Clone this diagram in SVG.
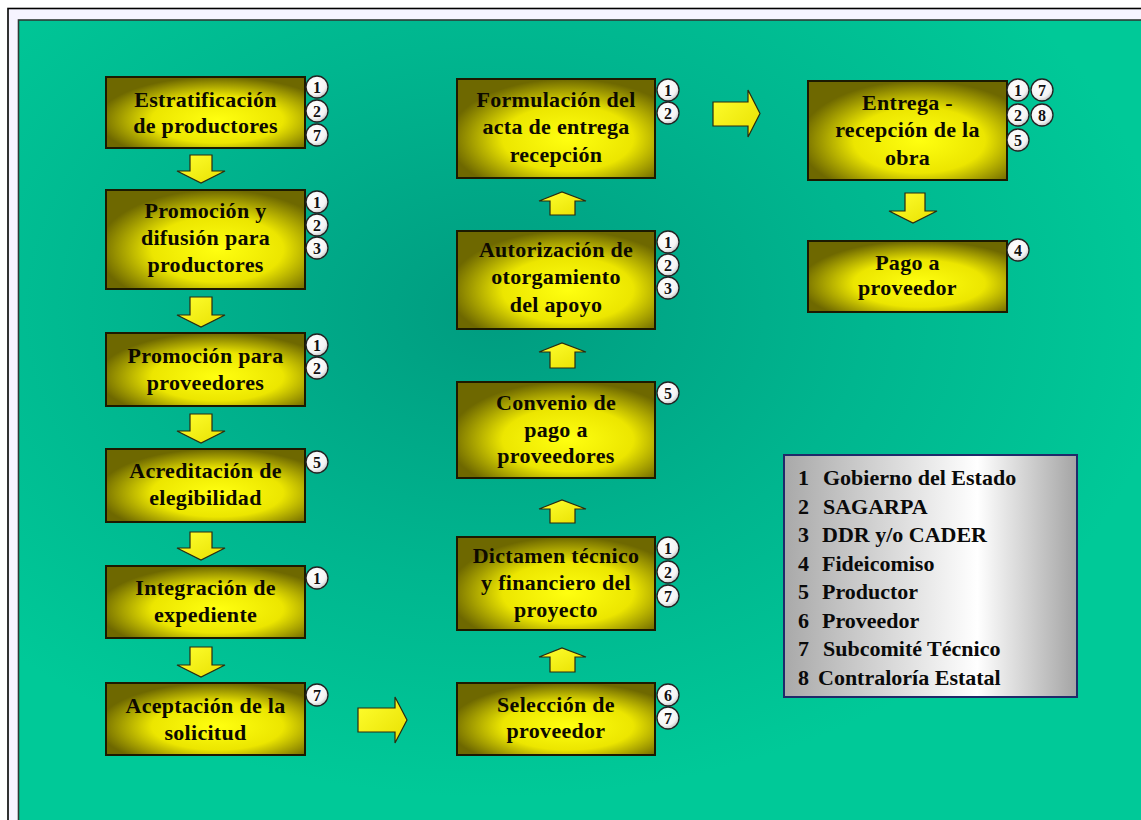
<svg xmlns="http://www.w3.org/2000/svg" width="1141" height="820" viewBox="0 0 1141 820">
<defs>
<radialGradient id="bg" cx="0.42" cy="0.36" r="0.6">
<stop offset="0" stop-color="#009c80"/>
<stop offset="0.55" stop-color="#00b68f"/>
<stop offset="1" stop-color="#00c998"/>
</radialGradient>
<radialGradient id="boxg" cx="0.56" cy="0.6" r="0.6">
<stop offset="0" stop-color="#ffff10"/>
<stop offset="0.55" stop-color="#ece600"/>
<stop offset="1" stop-color="#6e6800"/>
</radialGradient>
<linearGradient id="legg" x1="0" y1="0" x2="1" y2="0">
<stop offset="0" stop-color="#a9a9a9"/>
<stop offset="0.66" stop-color="#ffffff"/>
<stop offset="1" stop-color="#a4a4a4"/>
</linearGradient>
<radialGradient id="badg" cx="0.4" cy="0.35" r="0.7">
<stop offset="0" stop-color="#ffffff"/>
<stop offset="0.7" stop-color="#f4f4f4"/>
<stop offset="1" stop-color="#bdbdbd"/>
</radialGradient>
<linearGradient id="arrg" x1="0" y1="0" x2="1" y2="1">
<stop offset="0" stop-color="#ffff30"/>
<stop offset="1" stop-color="#e8e000"/>
</linearGradient>
</defs>
<style>
.box{fill:url(#boxg);stroke:#1c1a00;stroke-width:2}
.t{font-family:"Liberation Serif","Times New Roman",serif;font-weight:bold;font-size:22px;fill:#0d0a00;text-anchor:middle;letter-spacing:0.3px}
.bd circle{fill:url(#badg);stroke:#222;stroke-width:1.3}
.bd text{font-family:"Liberation Serif","Times New Roman",serif;font-weight:bold;font-size:16px;fill:#111;text-anchor:middle}
.arr{fill:url(#arrg);stroke:#2a2a10;stroke-width:1.2;stroke-linejoin:miter}
.lg{font-family:"Liberation Serif","Times New Roman",serif;font-weight:bold;font-size:22px;fill:#0a0a0a}
</style>
<rect x="0" y="0" width="1141" height="820" fill="#ffffff"/>
<rect x="8" y="8.5" width="1140" height="820" fill="#f6f4ff" stroke="#000" stroke-width="1.6"/>
<rect x="18.5" y="20" width="1130" height="810" fill="url(#bg)" stroke="#2e3a35" stroke-width="1.6"/>

<g id="connectors">
<polygon class="arr" points="190,155 212,155 212,171 225,171 201,183 177,171 190,171"/>
<polygon class="arr" points="190,297 212,297 212,315 225,315 201,327 177,315 190,315"/>
<polygon class="arr" points="190,414 212,414 212,431 225,431 201,443 177,431 190,431"/>
<polygon class="arr" points="190,532 212,532 212,548 225,548 201,560 177,548 190,548"/>
<polygon class="arr" points="190,647 212,647 212,665 225,665 201,677 177,665 190,665"/>
<polygon class="arr" points="358,708 395,708 395,697 407,720 395,743 395,732 358,732"/>
<polygon class="arr" points="550,215 550,201 539,201 562,192 586,201 575,201 575,215"/>
<polygon class="arr" points="550,368 550,352 539,352 562,343 586,352 575,352 575,368"/>
<polygon class="arr" points="550,523 550,509 539,509 562,500 586,509 575,509 575,523"/>
<polygon class="arr" points="550,672 550,657 539,657 562,648 586,657 575,657 575,672"/>
<polygon class="arr" points="713,102 748,102 748,90 760,113.5 748,137 748,126 713,126"/>
<polygon class="arr" points="905,193 925,193 925,211 937,211 913,223 889,211 905,211"/>
</g>

<g id="n-estratificacion">
<rect class="box" x="106" y="77" width="199" height="71"/>
<text class="t" x="205.5" y="107">Estratificación</text>
<text class="t" x="205.5" y="133">de productores</text>
<g class="bd"><circle cx="317" cy="87" r="11"/><text x="317" y="92.5">1</text></g>
<g class="bd"><circle cx="317" cy="111" r="11"/><text x="317" y="116.5">2</text></g>
<g class="bd"><circle cx="317" cy="135" r="11"/><text x="317" y="140.5">7</text></g>
</g>

<g id="n-promocion-difusion">
<rect class="box" x="106" y="190" width="199" height="99"/>
<text class="t" x="205.5" y="218">Promoción y</text>
<text class="t" x="205.5" y="245">difusión para</text>
<text class="t" x="205.5" y="272">productores</text>
<g class="bd"><circle cx="317" cy="202" r="11"/><text x="317" y="207.5">1</text></g>
<g class="bd"><circle cx="317" cy="225" r="11"/><text x="317" y="230.5">2</text></g>
<g class="bd"><circle cx="317" cy="248" r="11"/><text x="317" y="253.5">3</text></g>
</g>

<g id="n-promocion-proveedores">
<rect class="box" x="106" y="333" width="199" height="73"/>
<text class="t" x="205.5" y="363">Promoción para</text>
<text class="t" x="205.5" y="390">proveedores</text>
<g class="bd"><circle cx="317" cy="345" r="11"/><text x="317" y="350.5">1</text></g>
<g class="bd"><circle cx="317" cy="368" r="11"/><text x="317" y="373.5">2</text></g>
</g>

<g id="n-acreditacion">
<rect class="box" x="106" y="449" width="199" height="73"/>
<text class="t" x="205.5" y="478">Acreditación de</text>
<text class="t" x="205.5" y="505">elegibilidad</text>
<g class="bd"><circle cx="317" cy="462" r="11"/><text x="317" y="467.5">5</text></g>
</g>

<g id="n-integracion">
<rect class="box" x="106" y="566" width="199" height="72"/>
<text class="t" x="205.5" y="595">Integración de</text>
<text class="t" x="205.5" y="622">expediente</text>
<g class="bd"><circle cx="317" cy="578" r="11"/><text x="317" y="583.5">1</text></g>
</g>

<g id="n-aceptacion">
<rect class="box" x="106" y="683" width="199" height="72"/>
<text class="t" x="205.5" y="713">Aceptación de la</text>
<text class="t" x="205.5" y="740">solicitud</text>
<g class="bd"><circle cx="317" cy="695" r="11"/><text x="317" y="700.5">7</text></g>
</g>

<g id="n-seleccion">
<rect class="box" x="457" y="683" width="198" height="72"/>
<text class="t" x="556" y="712">Selección de</text>
<text class="t" x="556" y="738">proveedor</text>
<g class="bd"><circle cx="668" cy="695" r="11"/><text x="668" y="700.5">6</text></g>
<g class="bd"><circle cx="668" cy="718" r="11"/><text x="668" y="723.5">7</text></g>
</g>

<g id="n-dictamen">
<rect class="box" x="457" y="537" width="198" height="93"/>
<text class="t" x="556" y="563">Dictamen técnico</text>
<text class="t" x="556" y="590">y financiero del</text>
<text class="t" x="556" y="617">proyecto</text>
<g class="bd"><circle cx="668" cy="548" r="11"/><text x="668" y="553.5">1</text></g>
<g class="bd"><circle cx="668" cy="572" r="11"/><text x="668" y="577.5">2</text></g>
<g class="bd"><circle cx="668" cy="596" r="11"/><text x="668" y="601.5">7</text></g>
</g>

<g id="n-convenio">
<rect class="box" x="457" y="382" width="198" height="96"/>
<text class="t" x="556" y="410">Convenio de</text>
<text class="t" x="556" y="437">pago a</text>
<text class="t" x="556" y="463">proveedores</text>
<g class="bd"><circle cx="668" cy="393" r="11"/><text x="668" y="398.5">5</text></g>
</g>

<g id="n-autorizacion">
<rect class="box" x="457" y="231" width="198" height="98"/>
<text class="t" x="556" y="257">Autorización de</text>
<text class="t" x="556" y="284">otorgamiento</text>
<text class="t" x="556" y="312">del apoyo</text>
<g class="bd"><circle cx="668" cy="242" r="11"/><text x="668" y="247.5">1</text></g>
<g class="bd"><circle cx="668" cy="265" r="11"/><text x="668" y="270.5">2</text></g>
<g class="bd"><circle cx="668" cy="288" r="11"/><text x="668" y="293.5">3</text></g>
</g>

<g id="n-formulacion">
<rect class="box" x="457" y="79" width="198" height="99"/>
<text class="t" x="556" y="107">Formulación del</text>
<text class="t" x="556" y="134">acta de entrega</text>
<text class="t" x="556" y="162">recepción</text>
<g class="bd"><circle cx="668" cy="90" r="11"/><text x="668" y="95.5">1</text></g>
<g class="bd"><circle cx="668" cy="113" r="11"/><text x="668" y="118.5">2</text></g>
</g>

<g id="n-entrega">
<rect class="box" x="808" y="81" width="199" height="99"/>
<text class="t" x="907.5" y="110">Entrega -</text>
<text class="t" x="907.5" y="137">recepción de la</text>
<text class="t" x="907.5" y="165">obra</text>
<g class="bd"><circle cx="1018" cy="90" r="11"/><text x="1018" y="95.5">1</text></g>
<g class="bd"><circle cx="1042" cy="90" r="11"/><text x="1042" y="95.5">7</text></g>
<g class="bd"><circle cx="1018" cy="115" r="11"/><text x="1018" y="120.5">2</text></g>
<g class="bd"><circle cx="1042" cy="115" r="11"/><text x="1042" y="120.5">8</text></g>
<g class="bd"><circle cx="1018" cy="140" r="11"/><text x="1018" y="145.5">5</text></g>
</g>

<g id="n-pago">
<rect class="box" x="808" y="241" width="199" height="71"/>
<text class="t" x="907.5" y="270">Pago a</text>
<text class="t" x="907.5" y="295">proveedor</text>
<g class="bd"><circle cx="1018" cy="250" r="11"/><text x="1018" y="255.5">4</text></g>
</g>

<g id="legend">
<rect x="784" y="455" width="293" height="242" fill="url(#legg)" stroke="#1f2a6a" stroke-width="2"/>
<text class="lg" x="798" y="485">1<tspan x="823">Gobierno del Estado</tspan></text>
<text class="lg" x="798" y="513.5">2<tspan x="823">SAGARPA</tspan></text>
<text class="lg" x="798" y="542">3<tspan x="822">DDR y/o CADER</tspan></text>
<text class="lg" x="798" y="570.5">4<tspan x="822">Fideicomiso</tspan></text>
<text class="lg" x="798" y="599">5<tspan x="822">Productor</tspan></text>
<text class="lg" x="798" y="627.5">6<tspan x="822">Proveedor</tspan></text>
<text class="lg" x="798" y="656">7<tspan x="823">Subcomité Técnico</tspan></text>
<text class="lg" x="798" y="684.5">8<tspan x="818">Contraloría Estatal</tspan></text>
</g>
</svg>
